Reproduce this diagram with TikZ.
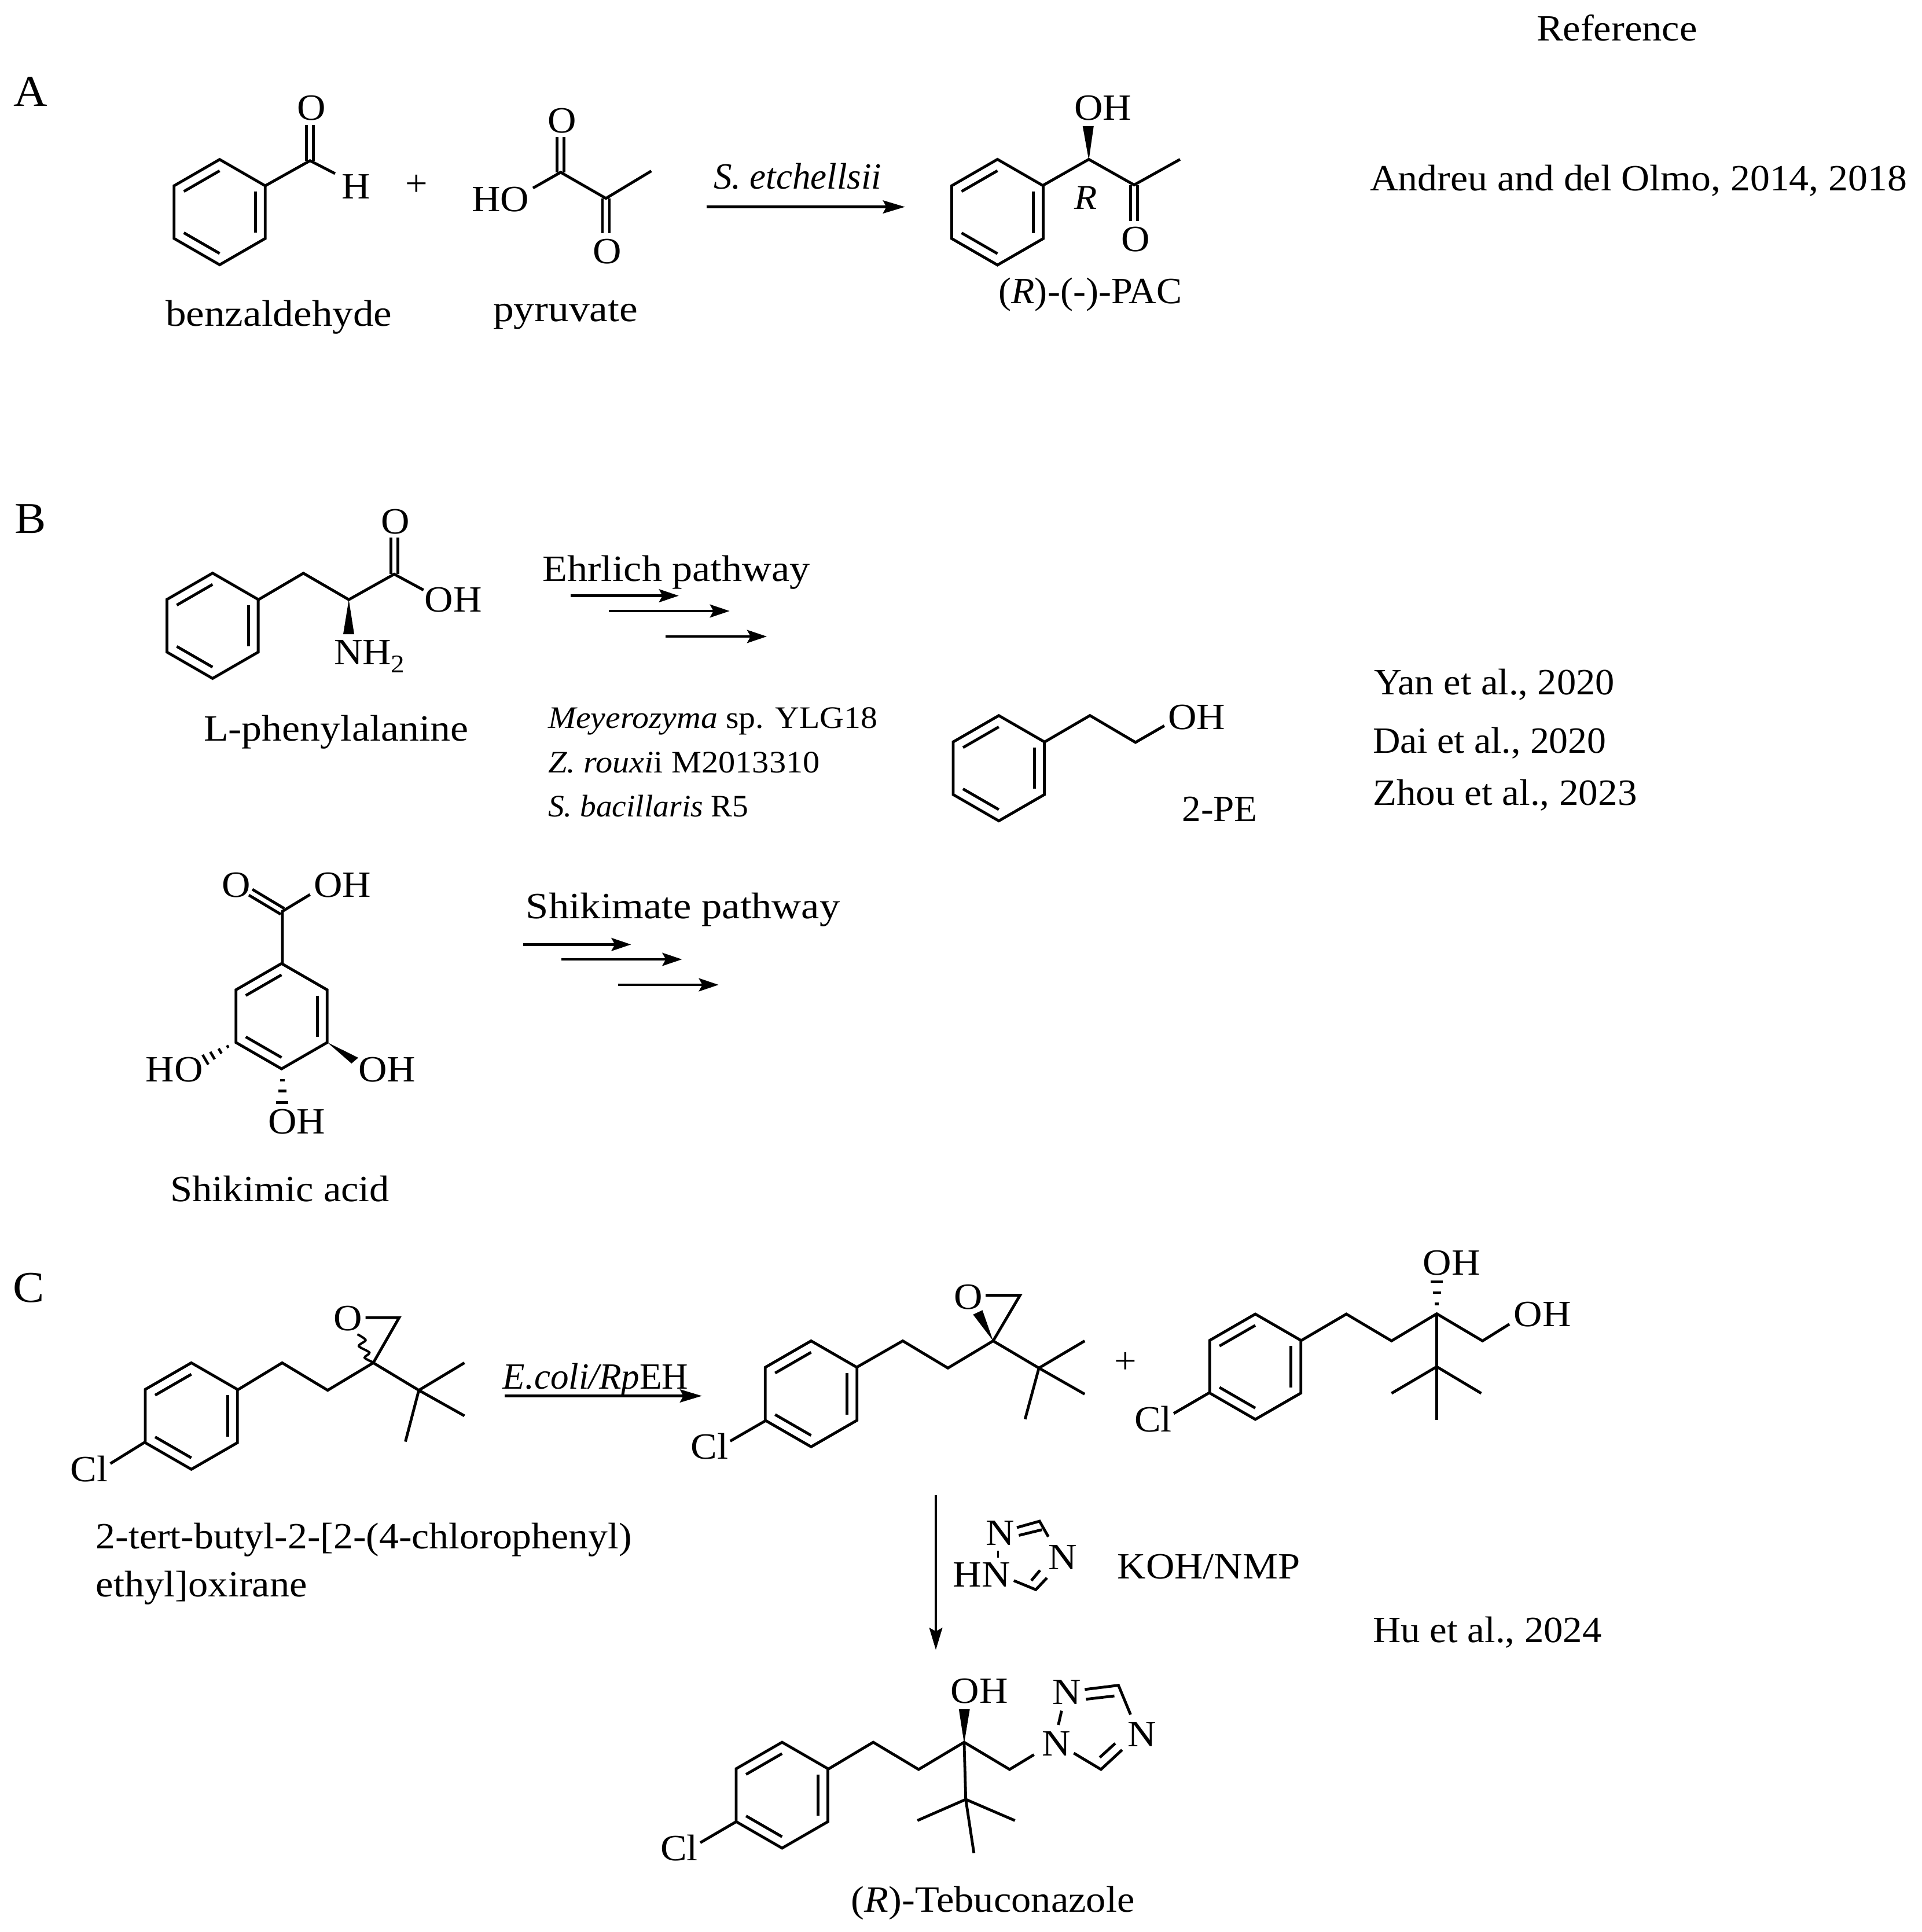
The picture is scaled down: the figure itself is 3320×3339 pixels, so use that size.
\documentclass[tikz,border=0pt]{standalone}
\usepackage{graphicx}
\usepackage{fontspec}
\setmainfont[FakeStretch=1.07]{Liberation Serif}
\usetikzlibrary{arrows.meta,calc}
\newcommand{\sx}[2]{\scalebox{#1}[1]{#2}}
\newcommand{\ringat}[3]{%
  \begin{scope}[shift={(#1,#2)}]
  \pgfmathsetmacro{\rr}{0.785*#3}
  \draw[bond] (30:#3)--(90:#3)--(150:#3)--(210:#3)--(270:#3)--(330:#3)--cycle;
  \draw[bond] (-30:\rr)--(30:\rr);
  \draw[bond] (210:\rr)--(270:\rr);
  \draw[bond] (150:\rr)--(90:\rr);
  \end{scope}}
\newcommand{\hashat}[6]{%
  \foreach \hh in {#6}{%
    \pgfmathsetmacro{\ww}{#5*\hh}
    \draw[line width=1.1pt] ($(#1,#2)!\hh!(#3,#4)!\ww pt!90:(#3,#4)$) -- ($(#1,#2)!\hh!(#3,#4)!\ww pt!-90:(#3,#4)$);
  }}
\tikzset{
  bond/.style={line width=1.2pt},
  lab/.style={inner sep=0pt,outer sep=0pt,anchor=base west,font=\fontsize{16}{19}\selectfont},
  small/.style={inner sep=0pt,outer sep=0pt,anchor=base west,font=\fontsize{13.5}{16}\selectfont},
  panel/.style={inner sep=0pt,outer sep=0pt,anchor=base west,font=\fontsize{19}{22}\selectfont},
  rxn/.style={line width=1.2pt,-{Stealth[length=9.5pt,width=5.6pt,inset=1.5pt]}},
  rxns/.style={line width=1.2pt,-{Stealth[length=8.5pt,width=5.6pt,inset=1.5pt]}},
}
\begin{document}
\begin{tikzpicture}[x=0.25pt,y=-0.25pt]
\useasboundingbox (0,0) rectangle (3320,3339);
\fill[white] (0,0) rectangle (3320,3339);
% --- header
\node[lab] (hdr) at (2655,70.5) {Reference};
% --- panel A
\node[panel] (pA) at (23,184) {A};
\ringat{379.5}{366.6}{91}
\draw[bond] (458.4,321)--(535.7,277.7)--(579,300);
\draw[bond] (529.7,277.7)--(529.7,216.5) (541.7,277.7)--(541.7,216.5);
\node[lab] (aO1) at (513,207.6) {O};
\node[lab] (aH) at (590,343.7) {H};
\node[lab,anchor=center] (aplus) at (720,320) {+};
\draw[bond] (921,325)--(968.7,297.8)--(1047,342.8)--(1125.4,295.5);
\draw[bond] (962.7,297.8)--(962.7,237.5) (974.7,297.8)--(974.7,237.5);
\draw[bond] (1041,342.8)--(1041,403) (1053,342.8)--(1053,403);
\node[lab] (aO2) at (946,230) {O};
\node[lab] (aHO) at (815,365) {HO};
\node[lab] (aO3) at (1024,455) {O};
\node[lab] (tbenz) at (286,563.4) {\sx{1.04}{benzaldehyde}};
\node[lab] (tpyr) at (852,555) {\sx{1.045}{pyruvate}};
\node[lab] (tset) at (1233,326) {\sx{0.92}{\textit{S. etchellsii}}};
\draw[rxn] (1220.7,357.6)--(1563.7,357.6);
\ringat{1723.5}{366.7}{91.3}
\draw[bond] (1801.9,320.5)--(1881.3,275.4)--(1959.6,319.6)--(2039,275.4);
\fill (1881.3,277)--(1870.7,217.8)--(1889.8,217.8)--cycle;
\draw[bond] (1953.6,319.6)--(1953.6,381.7) (1965.6,319.6)--(1965.6,381.7);
\node[lab] (pOH) at (1856,207.6) {OH};
\node[lab] (pO) at (1937,434) {O};
\node[lab,font=\fontsize{15}{18}\selectfont] (pR) at (1856,361.6) {\textit{R}};
\node[lab] (tpac) at (1725.6,524.5) {\sx{0.965}{(\textit{R})-(-)-PAC}};
\node[lab] (rA) at (2367,329.4) {\sx{0.99}{Andreu and del Olmo, 2014, 2018}};
% --- panel B
\node[panel] (pB) at (25,921.9) {B};
\ringat{367.3}{1081.5}{91}
\draw[bond] (446.7,1036.3)--(524.2,990.7)--(602.7,1036.3)--(681.1,992.3)--(731.8,1019.7);
\draw[bond] (675.1,992.3)--(675.1,928.5) (687.1,992.3)--(687.1,928.5);
\fill (602.7,1036.3)--(593,1096)--(612,1096)--cycle;
\node[lab] (bO) at (658,922.7) {O};
\node[lab] (bOH) at (733.7,1057.8) {OH};
\node[lab] (bNH) at (577,1148) {NH\raisebox{-3.5pt}{\fontsize{11}{13}\selectfont 2}};
\node[lab] (tphe) at (352,1280.8) {\sx{1.02}{L-phenylalanine}};
\node[lab] (tehr) at (937.5,1004.8) {\sx{1.025}{Ehrlich pathway}};
\draw[rxns] (986,1029.6)--(1172.8,1029.6);
\draw[rxns] (1052,1056)--(1260.8,1056);
\draw[rxns] (1150,1100)--(1325,1100);
\node[small] (s1) at (947,1258.4) {\textit{Meyerozyma} sp. YLG18};
\node[small] (s2) at (947,1335.5) {\sx{1.01}{\textit{Z. rouxi}i M2013310}};
\node[small] (s3) at (947,1411) {\sx{0.96}{\textit{S. bacillaris} R5}};
\ringat{1725.8}{1327.7}{91}
\draw[bond] (1804.6,1282.5)--(1883.3,1236.6)--(1962,1283)--(2011.8,1254.3);
\node[lab] (peOH) at (2018.4,1260) {OH};
\node[lab] (tpe) at (2042.5,1419) {\sx{0.95}{2-PE}};
\node[lab] (r1) at (2374,1200) {\sx{0.97}{Yan et al., 2020}};
\node[lab] (r2) at (2372,1301) {\sx{0.96}{Dai et al., 2020}};
\node[lab] (r3) at (2372,1391) {\sx{0.98}{Zhou et al., 2023}};
% shikimic
\ringat{486.5}{1756.2}{91}
\draw[bond] (487.9,1665)--(487.9,1575)--(535.7,1546);
\draw[bond] (491,1570)--(436,1537) (485,1580)--(430,1547);
\node[lab] (sO) at (383,1550.2) {O};
\node[lab] (sOH) at (542,1550.2) {OH};
\fill (565.4,1801.4)--(619,1828)--(607.4,1838)--cycle;
\hashat{406.6}{1801}{354}{1832}{2.5}{0.25,0.5,0.75,0.98}
\hashat{487.9}{1846}{487.9}{1906.7}{2.7}{0.35,0.65,0.98}
\node[lab] (sHO) at (251.6,1869.4) {HO};
\node[lab] (sOH2) at (619,1869.4) {OH};
\node[lab] (sOH3) at (463,1959) {OH};
\node[lab] (tshk) at (294.6,2076.7) {Shikimic acid};
\node[lab] (tshp) at (908.8,1587.5) {\sx{1.03}{Shikimate pathway}};
\draw[rxns] (904,1632.3)--(1090.5,1632.3);
\draw[rxns] (970,1658)--(1178.5,1658);
\draw[rxns] (1067.6,1702)--(1241.7,1702);
% --- panel C
\node[panel] (pC) at (22,2250.4) {C};
\ringat{330.6}{2447.3}{92}
\draw[bond] (410.4,2402.2)--(487.5,2355.3)--(566.2,2402.7)--(645,2355.3)--(723.7,2402.7)--(802.5,2355.3);
\draw[bond] (723.7,2402.7)--(802.5,2446.9) (723.7,2402.7)--(700.5,2491.5);
\draw[bond] (645,2355.3)--(689.7,2277.2)--(631.7,2277.2);
\draw[bond] (250.4,2492.4)--(190.7,2529.4);
\draw[line width=1pt] plot[smooth] coordinates {(645,2354.5)(630,2346.4)(638.3,2337.5)(620,2326.3)(631.7,2316)(617.6,2306)};
\node[lab] (cO) at (576,2299.5) {O};
\node[lab] (cCl) at (121.9,2560.7) {Cl};
\node[lab] (tname) at (165.8,2676.8) {\sx{0.99}{2-tert-butyl-2-[2-(4-chlorophenyl)}};
\node[lab] (tname2) at (165.8,2759.3) {ethyl]oxirane};
\node[lab] (tecoli) at (868.8,2400.9) {\sx{0.92}{\textit{E.coli/Rp}EH}};
\draw[rxn] (872,2412.5)--(1212.9,2412.5);
% product 1
\ringat{1401.5}{2408.9}{91.5}
\draw[bond] (1479.6,2363.4)--(1559.8,2317.4)--(1637.9,2364.3)--(1716,2317.4)--(1795.1,2364.3)--(1874.2,2317.4);
\draw[bond] (1795.1,2364.3)--(1874.2,2409.4) (1795.1,2364.3)--(1771.2,2452.7);
\draw[bond] (1716,2317.4)--(1762.6,2238.4)--(1703,2238.4);
\fill (1716,2317.4)--(1681.3,2271.9)--(1697.5,2264.3)--cycle;
\draw[bond] (1323.5,2454.9)--(1261.7,2490.6);
\node[lab] (d1O) at (1648.7,2262) {O};
\node[lab] (d1Cl) at (1193.4,2521.8) {Cl};
\node[lab,anchor=center] (cplus) at (1944.7,2355.3) {+};
% product 2
\ringat{2169}{2362}{91}
\draw[bond] (2247.2,2317.4)--(2326.3,2271)--(2404.4,2317.4)--(2482.5,2270.5)--(2561.6,2317.4)--(2608,2288.4);
\draw[bond] (2482.5,2270.5)--(2482.5,2454);
\draw[bond] (2404.4,2408)--(2482.5,2362)--(2559.4,2408);
\draw[bond] (2090,2406.7)--(2028,2442.8);
\hashat{2482.5}{2270.5}{2482.5}{2214}{2.7}{0.3,0.65,0.98}
\node[lab] (d2OH) at (2458.6,2203.6) {OH};
\node[lab] (d2OHb) at (2615.8,2292.8) {OH};
\node[lab] (d2Cl) at (1960,2474) {Cl};
% vertical arrow + reagents
\draw[rxn] (1617,2583.5)--(1617,2851.4);
\node[lab] (tN1) at (1703,2670.5) {N};
\node[lab] (tN2) at (1811.4,2712.5) {N};
\node[lab] (tHN) at (1646.6,2742.8) {HN};
\draw[bond] (1757,2640)--(1796.2,2629)--(1811.4,2655.8);
\draw[bond] (1760.4,2653.5)--(1800.5,2643.7);
\draw[bond] (1751.7,2731.7)--(1789.7,2747.3)--(1809,2727);
\draw[bond] (1782,2731.7)--(1797,2713.8);
\draw[line width=0.8pt] (1724.6,2680)--(1724.6,2691.5);
\node[lab] (tkoh) at (1930.6,2728.5) {KOH/NMP};
\node[lab] (r4) at (2372.7,2838) {\sx{0.975}{Hu et al., 2024}};
% tebuconazole
\ringat{1351.3}{3102.5}{91.5}
\draw[bond] (1430.2,3058)--(1508.8,3011)--(1587.3,3058)--(1665.9,3011)--(1744.5,3058)--(1786.6,3032.5);
\draw[bond] (1665.9,3011)--(1668.7,3109.8);
\draw[bond] (1585.2,3146.3)--(1668.7,3109.8)--(1753.6,3146.3);
\draw[bond] (1668.7,3109.8)--(1682.8,3202.6);
\fill (1665.9,3013)--(1656.8,2954)--(1675.7,2954)--cycle;
\draw[bond] (1272.4,3148.1)--(1210,3184.6);
\node[lab] (eOH) at (1642.8,2943.4) {OH};
\node[lab] (eCl) at (1141,3215.7) {Cl};
\node[lab] (eN1) at (1800.6,3034.3) {N};
\node[lab] (eN2) at (1818,2945.3) {N};
\node[lab] (eN3) at (1948,3018.6) {N};
\draw[bond] (1874.3,2919.8)--(1932.5,2912.6)--(1953.5,2963.3);
\draw[bond] (1876.4,2936.7)--(1925.5,2931);
\draw[bond] (1855.3,3029.8)--(1902.3,3058)--(1938.8,3024.2);
\draw[bond] (1900.2,3037.3)--(1926.9,3013);
\draw[bond] (1834.3,2956.6)--(1828.7,2981);
\node[lab] (teb) at (1470.9,3304) {(\textit{R})-Tebuconazole};
\end{tikzpicture}
\end{document}
